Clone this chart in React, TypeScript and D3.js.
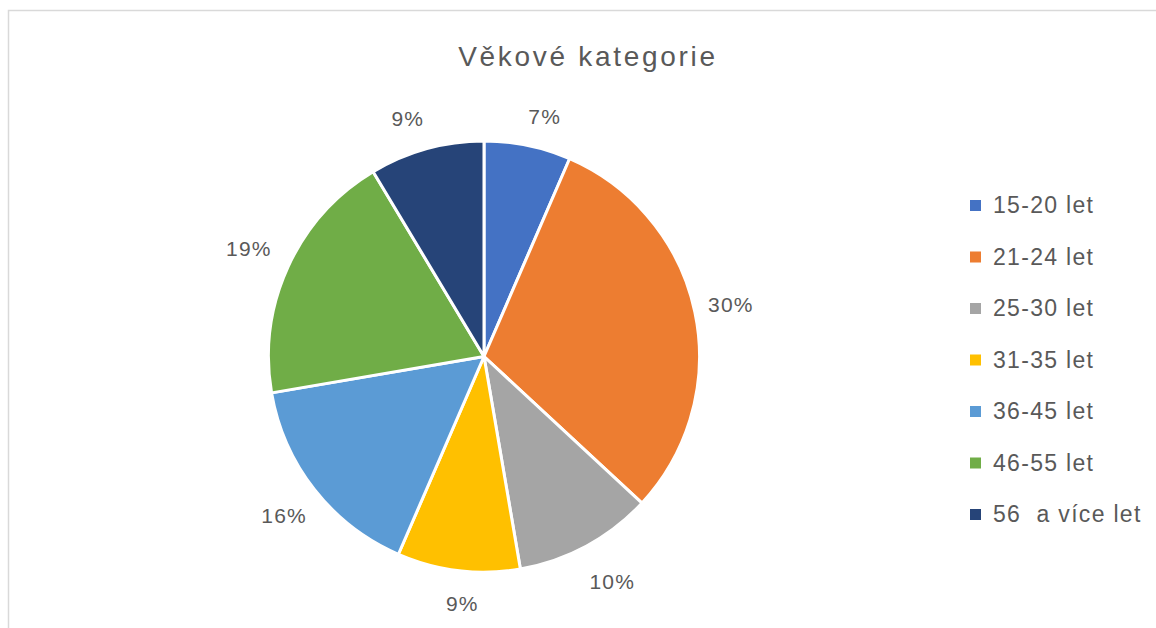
import React from "react";
import * as d3 from "d3";

const categories = ["15-20 let", "21-24 let", "25-30 let", "31-35 let", "36-45 let", "46-55 let", "56  a více let"];
const values = [6.5, 30.4, 10.4, 9.2, 15.8, 19.1, 8.6];
const colors = ["#4472C4", "#ED7D31", "#A5A5A5", "#FFC000", "#5B9BD5", "#70AD47", "#264478"];
const title = "Věkové kategorie";

const W = 1156, H = 628;
const cx = 484, cy = 356.5, R = 215.5;
const FONT = "'Liberation Sans', Arial, sans-serif";
const TXT = "#595959";

export default function App() {
  const total = d3.sum(values);
  const pie = d3.pie<number>().sort(null).value((d) => d)(values);
  const arc = d3.arc<d3.PieArcDatum<number>>().innerRadius(0).outerRadius(R);
  const legendY = d3.scalePoint<string>().domain(categories).range([205, 514]);

  return (
    <svg width={W} height={H} style={{ position: "absolute", left: 0, top: 0, background: "#fff" }} fontFamily={FONT}>
      <rect x={8.5} y={10.5} width={1300} height={800} fill="#fff" stroke="#d9d9d9" strokeWidth={1.5} />
      <text x={588} y={66} textAnchor="middle" fontSize={28} letterSpacing={2.7} fill={TXT}>{title}</text>
      <g transform={`translate(${cx},${cy})`}>
        {pie.map((p, i) => (
          <path key={i} d={arc(p) || ""} fill={colors[i]} stroke="#fff" strokeWidth={3} strokeLinejoin="round" />
        ))}
        {pie.map((p, i) => {
          const a = (p.startAngle + p.endAngle) / 2;
          const ux = Math.sin(a), uy = -Math.cos(a);
          const label = `${Math.round((p.value / total) * 100)}%`;
          const top = Math.max(0, -uy);
          const k = uy < 0 ? 16 : 13;
          const d = R + 30 + k * Math.abs(Math.sin(2 * a)) - 8 * Math.pow(top, 4);
          const nudge = uy < 0 ? 14 * Math.sign(ux) * (1 - Math.abs(ux)) : 8 * (1 - ux * ux);
          return (
            <text key={i} x={ux * d + nudge} y={uy * d} dy="0.35em" textAnchor="middle" fontSize={21} letterSpacing={1.2} fill={TXT}>
              {label}
            </text>
          );
        })}
      </g>
      {categories.map((c, i) => (
        <g key={c} transform={`translate(970,${legendY(c)})`}>
          <rect x={0} y={-5} width={11} height={11} fill={colors[i]} />
          <text x={23} y={0} dy="0.35em" fontSize={23} letterSpacing={1.3} fill={TXT} style={{ whiteSpace: "pre" }}>{c}</text>
        </g>
      ))}
    </svg>
  );
}
